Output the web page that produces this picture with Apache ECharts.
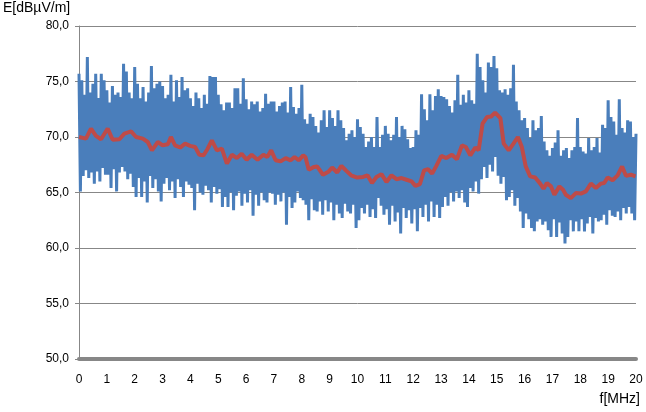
<!DOCTYPE html>
<html>
<head>
<meta charset="utf-8">
<script src="https://cdn.jsdelivr.net/npm/echarts@6/dist/echarts.min.js"></script>
<style>
html,body{margin:0;padding:0;background:#fff;}
#chart{width:646px;height:412px;}
</style>
</head>
<body>
<div id="chart"></div>
<script>
// Blue (raw measurement) peaks, read at f = 0.0, 0.1, ... 20.0 MHz
const blueHigh = [
 75.7, 75.1, 73.8, 77.2, 74.0, 74.8, 75.7, 73.5, 75.7, 75.1,
 74.2, 73.1, 74.6, 73.8, 74.0, 73.6, 76.6, 75.9, 74.0, 73.5,
 76.3, 74.8, 73.5, 74.5, 73.2, 74.0, 76.4, 74.4, 74.8, 75.0,
 74.6, 73.5, 73.8, 75.6, 73.2, 75.1, 73.6, 75.4, 74.2, 74.4,
 73.5, 72.8, 74.0, 73.5, 72.6, 73.8, 73.0, 75.5, 75.4, 75.4,
 73.8, 72.95, 72.4, 73.1, 73.1, 72.6, 74.4, 74.4, 73.0, 75.3,
 73.4, 72.5, 73.2, 72.95, 73.2, 72.3, 72.6, 73.9, 73.0, 73.2,
 73.2, 72.3, 72.8, 73.1, 73.2, 72.2, 74.5, 72.7, 72.1, 72.6,
 74.7, 71.6, 71.2, 72.1, 71.8, 71.0, 70.4, 71.5, 72.4, 70.9,
 72.4, 71.7, 71.0, 72.4, 71.5, 70.8, 69.7, 70.3, 70.6, 70.0,
 71.6, 70.9, 70.3, 69.1, 69.6, 70.0, 69.1, 71.8, 69.1, 70.2,
 71.0, 70.3, 69.7, 70.2, 71.8, 70.0, 71.0, 70.7, 69.8, 69.0,
 69.1, 70.6, 70.2, 73.85, 72.5, 71.5, 73.85, 72.4, 73.7, 74.3,
 73.7, 73.6, 73.4, 72.8, 72.2, 73.3, 75.6, 72.9, 73.8, 73.1,
 74.2, 73.3, 73.0, 77.5, 76.3, 75.1, 74.0, 76.7, 76.3, 77.3,
 76.2, 74.2, 74.0, 74.3, 73.8, 74.4, 76.5, 73.2, 72.4, 71.5,
 71.7, 70.8, 69.9, 71.5, 70.6, 70.8, 71.9, 69.6, 68.8, 68.3,
 69.0, 69.5, 70.6, 68.3, 68.8, 69.0, 68.1, 68.8, 69.1, 71.7,
 69.1, 68.7, 68.5, 69.9, 68.8, 69.1, 69.9, 68.6, 71.1, 70.8,
 73.3, 71.8, 71.4, 70.2, 73.4, 70.8, 70.4, 71.5, 71.4, 70.0,
 70.3
];
// Blue troughs, read at f = 0.05, 0.15, ... 19.95 MHz
const blueLow = [
 65.1, 66.5, 67.0, 66.3, 66.8, 65.8, 66.9, 66.0, 67.2, 66.6,
 66.6, 65.4, 67.1, 65.1, 66.8, 67.3, 66.9, 66.2, 66.7, 65.5,
 64.6, 66.3, 64.6, 66.0, 64.1, 66.5, 65.4, 66.2, 65.1, 64.2,
 65.8, 66.3, 65.2, 66.0, 64.5, 66.2, 65.5, 64.6, 66.0, 65.7,
 65.4, 63.4, 65.8, 65.0, 64.8, 65.6, 65.2, 64.1, 65.5, 64.9,
 65.3, 63.7, 64.6, 63.7, 65.0, 63.4, 64.7, 65.1, 63.8, 64.9,
 64.1, 65.2, 62.9, 64.8, 63.8, 65.0, 64.3, 64.1, 65.0, 64.9,
 63.9, 64.8, 64.2, 65.0, 62.1, 64.6, 63.6, 64.1, 65.1, 64.5,
 64.3, 63.9, 62.5, 64.4, 63.4, 63.3, 64.2, 63.0, 64.3, 63.3,
 64.1, 62.5, 63.9, 63.1, 62.7, 64.0, 63.3, 63.1, 63.9, 61.8,
 62.5, 63.6, 63.1, 63.9, 62.8, 63.5, 62.7, 64.5, 63.8, 63.0,
 63.5, 62.1, 63.8, 62.4, 63.2, 61.3, 63.6, 62.7, 63.4, 62.2,
 63.5, 61.5, 63.6, 62.8, 63.9, 62.4, 64.2, 62.8, 63.9, 62.7,
 63.7, 64.6, 63.8, 65.0, 64.2, 65.1, 64.5, 65.2, 64.1, 63.7,
 65.4, 65.1, 66.0, 64.9, 66.2, 67.3, 66.3, 67.5, 66.9, 68.2,
 66.5, 65.8, 66.4, 64.3, 64.6, 65.2, 63.8, 64.5, 63.3, 61.8,
 63.1, 62.6, 61.8, 61.5, 62.4, 62.6, 62.1, 62.4, 61.6, 61.0,
 62.6, 61.0, 62.3, 61.3, 60.4, 61.0, 62.5, 61.5, 62.4, 61.5,
 62.6, 61.5, 62.2, 62.8, 61.3, 62.7, 62.4, 62.5, 63.0, 62.1,
 63.4, 62.9, 62.8, 63.3, 62.5, 63.6, 63.1, 63.7, 63.1, 62.5
];
// Red (averaged) curve: frequency [MHz] and level [dBµV/m]
const redFreq = [0, 0.25, 0.43, 0.61, 0.79, 1.03, 1.21, 1.45, 1.63, 1.87, 2.05, 2.29, 2.47, 2.62, 2.83, 3.0, 3.19, 3.3, 3.45, 3.63, 3.81, 3.99, 4.17, 4.32, 4.47, 4.61, 4.77, 4.95, 5.13, 5.31, 5.49, 5.67, 5.84, 6.02, 6.2, 6.41, 6.62, 6.76, 6.9, 7.06, 7.24, 7.42, 7.6, 7.74, 7.89, 8.05, 8.13, 8.25, 8.43, 8.55, 8.76, 8.97, 9.09, 9.27, 9.42, 9.6, 9.77, 9.99, 10.2, 10.36, 10.52, 10.68, 10.86, 11.04, 11.22, 11.4, 11.58, 11.76, 11.94, 12.08, 12.24, 12.39, 12.53, 12.68, 12.83, 13.01, 13.19, 13.39, 13.57, 13.75, 13.89, 14.05, 14.23, 14.35, 14.49, 14.65, 14.8, 14.94, 15.13, 15.25, 15.43, 15.6, 15.76, 15.9, 16.04, 16.2, 16.38, 16.56, 16.68, 16.8, 16.95, 17.07, 17.25, 17.38, 17.48, 17.66, 17.84, 18.02, 18.2, 18.38, 18.56, 18.74, 18.86, 18.98, 19.16, 19.34, 19.5, 19.64, 19.82, 19.98];
const redLevel = [70.0, 69.85, 70.75, 70.1, 69.8, 70.75, 69.75, 69.8, 70.3, 70.5, 70.0, 69.85, 69.55, 68.8, 69.55, 69.25, 69.35, 70.0, 69.25, 69.05, 69.4, 69.2, 69.1, 68.4, 68.35, 68.9, 69.7, 68.8, 68.95, 67.6, 68.4, 68.1, 68.5, 67.95, 68.4, 67.95, 68.4, 68.2, 68.8, 67.9, 67.8, 68.1, 67.9, 68.2, 67.9, 68.35, 68.2, 67.05, 67.3, 67.35, 66.6, 66.9, 67.25, 66.8, 67.4, 66.95, 66.55, 66.35, 66.4, 66.55, 65.85, 66.4, 66.65, 65.95, 66.55, 66.2, 66.3, 66.15, 66.0, 65.6, 65.75, 67.0, 67.1, 66.7, 67.4, 68.3, 68.1, 68.4, 68.0, 69.25, 69.1, 68.35, 69.05, 68.8, 71.2, 71.8, 71.85, 72.2, 71.7, 69.4, 68.8, 69.4, 70.0, 69.1, 67.35, 66.45, 66.35, 65.8, 65.35, 65.85, 65.55, 64.8, 65.55, 65.25, 64.8, 64.5, 64.95, 64.9, 65.1, 65.8, 65.4, 65.8, 65.85, 66.35, 66.1, 66.55, 67.35, 66.5, 66.6, 66.45];

const yMin = 50, yMax = 80, yStep = 5;
const xMin = 0, xMax = 20, xStep = 1;
const yTitle = 'E[dBµV/m]';
const xTitle = 'f[MHz]';

const blueData = [];
for (let i = 0; i < blueHigh.length; i++) {
  blueData.push([i / 10, blueHigh[i]]);
  if (i < blueLow.length) blueData.push([(2 * i + 1) / 20, blueLow[i]]);
}
const redData = redFreq.map((f, i) => [f, redLevel[i]]);

const chart = echarts.init(document.getElementById('chart'), null, {renderer: 'canvas'});
const font = '"Liberation Sans", Arial, sans-serif';
chart.setOption({
  animation: false,
  backgroundColor: '#ffffff',
  grid: {left: 79, right: 10, top: 26, bottom: 53, containLabel: false},
  xAxis: {
    type: 'value', min: xMin, max: xMax, interval: xStep,
    axisLine: {show: true, onZero: false, lineStyle: {color: '#878787', width: 4}},
    axisTick: {show: false},
    splitLine: {show: false},
    axisLabel: {color: '#000', fontSize: 12, fontFamily: font, margin: 15}
  },
  yAxis: {
    type: 'value', min: yMin, max: yMax, interval: yStep,
    axisLine: {show: true, lineStyle: {color: '#878787', width: 1}},
    axisTick: {show: true, length: 4, lineStyle: {color: '#878787'}},
    splitLine: {show: true, lineStyle: {color: '#878787', width: 1}},
    axisLabel: {color: '#000', fontSize: 12, fontFamily: font, margin: 10,
      formatter: v => v.toFixed(1).replace('.', ',')}
  },
  graphic: [
    {type: 'text', left: 3, top: 1, style: {text: yTitle, font: '14px ' + font, fill: '#000'}},
    {type: 'text', right: 6, top: 392, style: {text: xTitle, font: '14px ' + font, fill: '#000'}}
  ],
  series: [
    {type: 'line', data: blueData, symbol: 'none', sampling: null,
     lineStyle: {color: '#4A7EBB', width: 3, join: 'bevel'}, z: 2},
    {type: 'line', data: redData, symbol: 'none',
     lineStyle: {color: '#BE4B48', width: 4}, z: 3}
  ]
});
</script>
</body>
</html>
